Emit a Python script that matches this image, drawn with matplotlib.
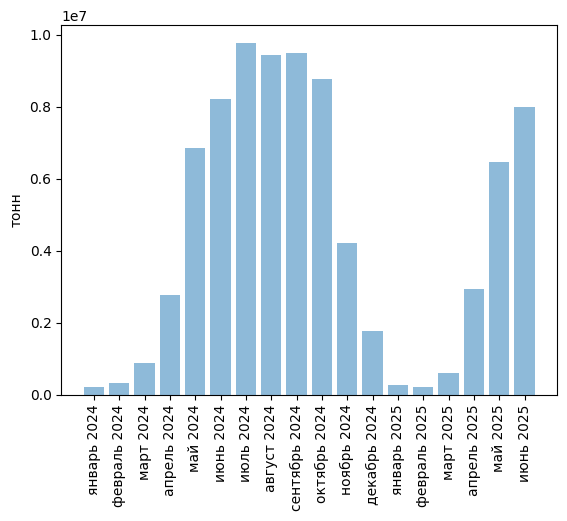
import matplotlib
matplotlib.use('Agg')
import matplotlib.pyplot as plt

months = ['январь 2024', 'февраль 2024', 'март 2024', 'апрель 2024', 'май 2024',
          'июнь 2024', 'июль 2024', 'август 2024', 'сентябрь 2024', 'октябрь 2024',
          'ноябрь 2024', 'декабрь 2024', 'январь 2025', 'февраль 2025', 'март 2025',
          'апрель 2025', 'май 2025', 'июнь 2025']
tons = [0.22e6, 0.33e6, 0.89e6, 2.78e6, 6.86e6,
        8.22e6, 9.78e6, 9.44e6, 9.50e6, 8.78e6,
        4.22e6, 1.78e6, 0.28e6, 0.22e6, 0.61e6,
        2.94e6, 6.47e6, 8.00e6]

fig = plt.figure()
plt.bar(months, tons, alpha=0.5)
plt.xticks(rotation=90)
plt.ylabel('тонн')
fig.savefig('out.png', bbox_inches='tight')
